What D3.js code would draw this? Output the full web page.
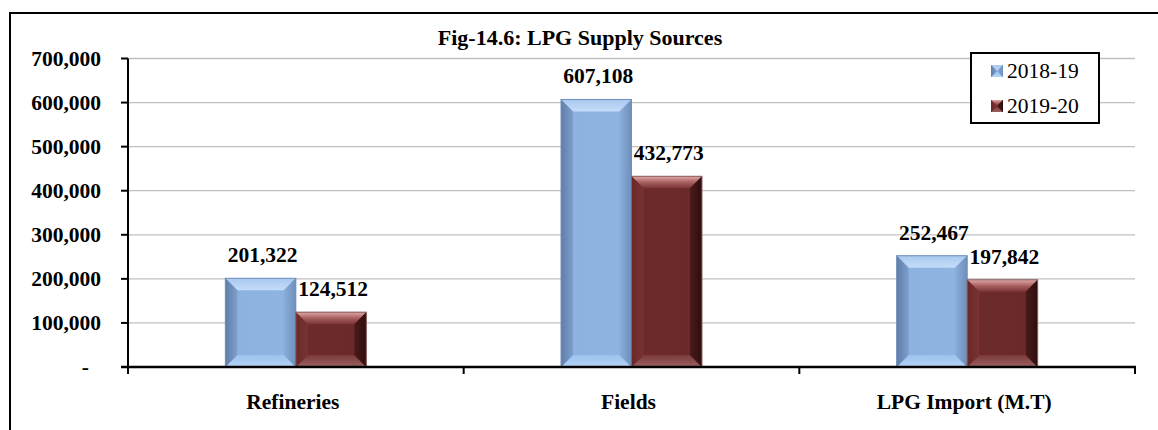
<!DOCTYPE html>
<html><head><meta charset="utf-8">
<script src="https://cdn.jsdelivr.net/npm/d3@7"></script>
<style>
body{margin:0;background:#fff;}
svg{display:block;}
</style></head>
<body><svg id="c" width="1158" height="430"></svg>
<script>
const categories = ["Refineries", "Fields", "LPG Import (M.T)"];
const seriesNames = ["2018-19", "2019-20"];
const values2018 = [201322, 607108, 252467];
const values2019 = [124512, 432773, 197842];
const yTicks = [0, 100000, 200000, 300000, 400000, 500000, 600000, 700000];

const FONT = '"Liberation Serif", "Times New Roman", serif';
const svg = d3.select("#c");
const fmt = d3.format(",");

// outer border
svg.append("rect").attr("x",10).attr("y",13).attr("width",1170).attr("height",440)
  .attr("fill","none").attr("stroke","#000").attr("stroke-width",2);

const x0 = 128, x1 = 1135, yTop = 58.5, yBot = 367;
const x = d3.scaleBand().domain(categories).range([x0,x1]).padding(0);
const y = d3.scaleLinear().domain([0,700000]).range([yBot,yTop]);

// gridlines
svg.append("g").selectAll("line").data(yTicks.filter(d=>d>0)).join("line")
  .attr("x1",x0).attr("x2",x1).attr("y1",d=>y(d)).attr("y2",d=>y(d))
  .attr("stroke","#c0c0c0").attr("stroke-width",1.3);

// defs
const defs = svg.append("defs");
function lg(id, stops, x2, y2){
  const g = defs.append("linearGradient").attr("id",id).attr("x1",0).attr("y1",0).attr("x2",x2).attr("y2",y2);
  stops.forEach(s=>g.append("stop").attr("offset",s[0]).attr("stop-color",s[1]));
}
// blue
lg("bMain",[[0,"#7f9fcb"],[0.12,"#8db2e0"],[0.85,"#8fb4e2"],[1,"#7f9fcb"]],1,0);
lg("bTop",[[0,"#a9c8ef"],[1,"#c4dcf8"]],0,1);
lg("bBot",[[0,"#9cc2ee"],[1,"#b3d3f6"]],0,1);
lg("bLeft",[[0,"#5f7ea8"],[1,"#7e9fcc"]],1,0);
lg("bRight",[[0,"#8aaedb"],[1,"#6f8fbb"]],1,0);
// red
lg("rMain",[[0,"#7a3030"],[0.1,"#6d2a2a"],[0.85,"#6b2929"],[1,"#4a1a1a"]],1,0);
lg("rTop",[[0,"#e0a8a8"],[0.5,"#a86060"],[1,"#7a3434"]],0,1);
lg("rBot",[[0,"#7a3a3a"],[1,"#9a6060"]],0,1);
lg("rLeft",[[0,"#6a2828"],[1,"#7a3232"]],1,0);
lg("rRight",[[0,"#4a1a1a"],[1,"#2e0e0e"]],1,0);

const series = [
  {name: seriesNames[0], values: values2018, pre: "b", edge: "#6f8fbb"},
  {name: seriesNames[1], values: values2019, pre: "r", edge: "#8a6060"}
];
const groupW = x.bandwidth()*0.42;
const inner = d3.scaleBand().domain(seriesNames).range([0,groupW]).padding(0);

function bevelBar(g, bx, by, bw, bh, pre, edge){
  const b = Math.min(12, bh/2, bw/2);
  const X0=bx, X1=bx+bw, Y0=by, Y1=by+bh;
  g.append("rect").attr("x",X0).attr("y",Y0).attr("width",bw).attr("height",bh).attr("fill",`url(#${pre}Main)`);
  const poly = (pts, fill)=>g.append("polygon").attr("points",pts.map(p=>p.join(",")).join(" ")).attr("fill",fill);
  poly([[X0,Y0],[X1,Y0],[X1-b,Y0+b],[X0+b,Y0+b]], `url(#${pre}Top)`);
  poly([[X0,Y1],[X1,Y1],[X1-b,Y1-b],[X0+b,Y1-b]], `url(#${pre}Bot)`);
  poly([[X0,Y0],[X0+b,Y0+b],[X0+b,Y1-b],[X0,Y1]], `url(#${pre}Left)`);
  poly([[X1,Y0],[X1-b,Y0+b],[X1-b,Y1-b],[X1,Y1]], `url(#${pre}Right)`);
  g.append("rect").attr("x",X0).attr("y",Y0).attr("width",bw).attr("height",bh)
    .attr("fill","none").attr("stroke",edge).attr("stroke-width",1);
}

function txt(g, xx, yy, s, size, bold, anchor){
  return g.append("text").attr("x",xx).attr("y",yy).attr("text-anchor",anchor||"start")
    .attr("font-size",size).attr("font-weight",bold?"bold":"normal")
    .style("font-family",FONT).attr("fill","#000").text(s);
}

const barsG = svg.append("g");
categories.forEach((c,i)=>{
  const gx = x(c) + (x.bandwidth()-groupW)/2;
  series.forEach(s=>{
    const v = s.values[i];
    const bx = gx + inner(s.name), bw = inner.bandwidth();
    bevelBar(barsG, bx, y(v), bw, y(0)-y(v), s.pre, s.edge);
    txt(barsG, bx+bw/2+2, y(v)-16, fmt(v), 21.5, true, "middle");
  });
});

// y axis
svg.append("line").attr("x1",x0).attr("x2",x0).attr("y1",yTop).attr("y2",yBot+1).attr("stroke","#000").attr("stroke-width",2);
const yt = svg.append("g");
yTicks.forEach(t=>{
  yt.append("line").attr("x1",x0-7).attr("x2",x0).attr("y1",y(t)).attr("y2",y(t)).attr("stroke","#000").attr("stroke-width",2);
  txt(yt, t===0?89:101, y(t)+7, t===0?"-":fmt(t), 21.5, true, "end");
});

// x axis
svg.append("line").attr("x1",x0-7).attr("x2",x1+1).attr("y1",yBot).attr("y2",yBot).attr("stroke","#000").attr("stroke-width",2.5);
const xt = svg.append("g");
[...categories.map(c=>x(c)), x1].forEach(p=>{
  xt.append("line").attr("x1",p).attr("x2",p).attr("y1",yBot).attr("y2",yBot+7).attr("stroke","#000").attr("stroke-width",2);
});
categories.forEach(c=>{
  txt(xt, x(c)+x.bandwidth()/2-3, 409, c, 21.5, true, "middle");
});

// title
txt(svg, 580, 45, "Fig-14.6: LPG Supply Sources", 22, true, "middle");

// legend
const lgG = svg.append("g");
lgG.append("rect").attr("x",971).attr("y",53).attr("width",128).attr("height",70)
  .attr("fill","#fff").attr("stroke","#000").attr("stroke-width",2);
series.forEach((s,i)=>{
  const cy = 71 + i*35;
  bevelBar(lgG, 991, cy-6, 12, 12, s.pre, "none");
  txt(lgG, 1007, cy+7, s.name, 21.5, false, "start");
});
</script></body></html>
